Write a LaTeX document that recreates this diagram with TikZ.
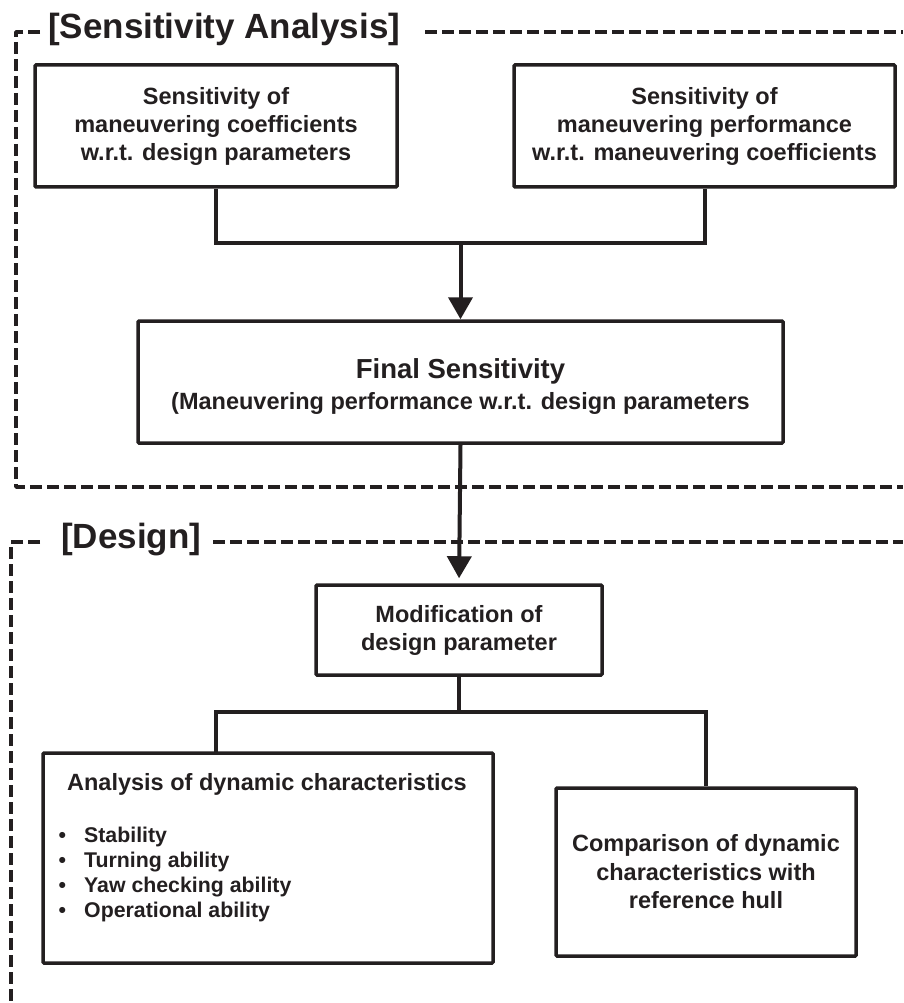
\documentclass[tikz,border=0pt]{standalone}
\usepackage{fontspec}
\setmainfont{Liberation Sans}
\usetikzlibrary{arrows.meta}
\definecolor{ink}{HTML}{231F20}
\begin{document}
\begin{tikzpicture}[x=1pt,y=-1pt,
  box/.style={draw=ink, line width=3.5pt, rounded corners=1pt, inner sep=0pt, align=center, text=ink,
    font=\bfseries\fontsize{23.5}{28}\selectfont},
  frame/.style={draw=ink, line width=3.5pt, dash pattern=on 12pt off 5pt, line join=round},
  conn/.style={draw=ink, line width=4pt},
  arr/.style={conn, -{Triangle[width=24pt,length=22pt]}},
  ttl/.style={font=\bfseries\fontsize{35}{40}\selectfont, text=ink, inner sep=0pt, anchor=base west},
  txt/.style={font=\bfseries\fontsize{23.5}{28}\selectfont, text=ink, inner sep=0pt},
  itm/.style={font=\bfseries\fontsize{21.3}{25}\selectfont, text=ink, inner sep=0pt, anchor=base west},
  ]
\useasboundingbox (0,0) rectangle (903,1003);

% frames
\draw[frame] (40,32) -- (16,32) -- (16,487) -- (903,487);
\draw[frame] (425,32) -- (903,32);
\node[ttl] (tsa) at (48,39) {[Sensitivity Analysis]};
\draw[frame] (40,542) -- (11,542) -- (11,1010);
\draw[frame] (213,542) -- (903,542);
\node[ttl] (tds) at (61,548) {[Design]};

% boxes
\node[box, minimum width=362pt, minimum height=122pt] (b1) at (216,126)
  {Sensitivity of\\maneuvering coefficients\\w.r.t. design parameters};
\node[box, minimum width=381pt, minimum height=122pt] (b2) at (704.5,126)
  {Sensitivity of\\maneuvering performance\\w.r.t. maneuvering coefficients};
\node[box, minimum width=645pt, minimum height=122pt, font=\bfseries\fontsize{23.5}{31}\selectfont] (b3) at (460.5,382)
  {\rule{0pt}{28pt}{\fontsize{27.5}{31}\selectfont Final Sensitivity}\\(Maneuvering performance w.r.t. design parameters};
\node[box, minimum width=286pt, minimum height=90pt] (b4) at (459,630)
  {Modification of\\design parameter};
\node[box, minimum width=450pt, minimum height=210pt] (b5) at (268,858) {};
\node[box, minimum width=300pt, minimum height=168pt, font=\bfseries\fontsize{23.5}{28.5}\selectfont] (b6) at (706,872)
  {Comparison of dynamic\\characteristics with\\reference hull};

\node[txt, anchor=base] (t5) at (267,790) {Analysis of dynamic characteristics};
\node[itm] (i1) at (84,842) {\llap{•\hspace{18pt}}Stability};
\node[itm] (i2) at (84,867) {\llap{•\hspace{18pt}}Turning ability};
\node[itm] (i3) at (84,892) {\llap{•\hspace{18pt}}Yaw checking ability};
\node[itm] (i4) at (84,917) {\llap{•\hspace{18pt}}Operational ability};

% connectors
\coordinate (j1) at (460.5,243);
\draw[conn] (b1.south) |- (j1) -| (b2.south);
\draw[arr] (j1) -- (b3.north);
\draw[arr, shorten >=5pt] (b3.south) -- (b4.north);
\coordinate (j2) at (459,712);
\coordinate (c5) at (216,753);
\draw[conn] (b4.south) -- (j2);
\draw[conn] (c5) |- (j2) -| (b6.north);
\end{tikzpicture}
\end{document}
